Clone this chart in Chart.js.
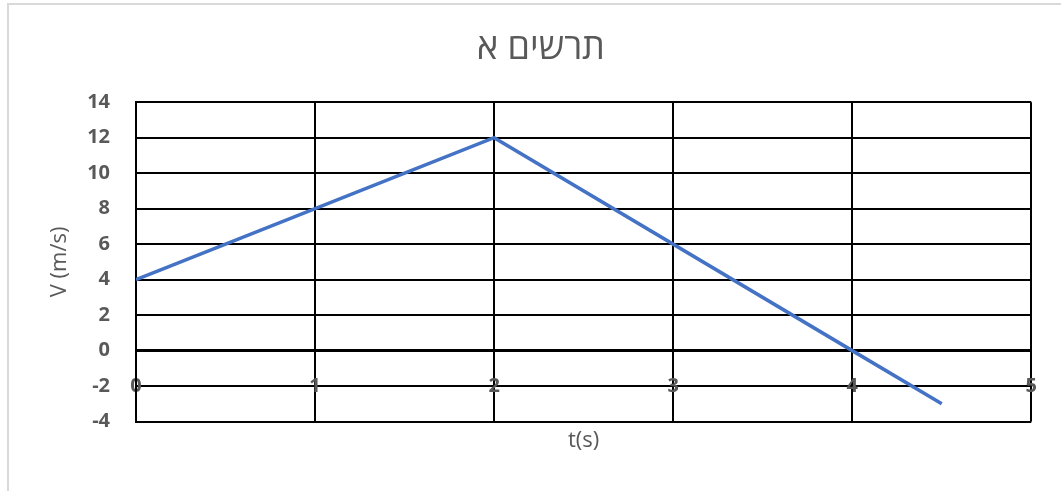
<!DOCTYPE html>
<html>
<head>
<meta charset="utf-8">
<script src="https://cdn.jsdelivr.net/npm/chart.js@4/dist/chart.umd.min.js"></script>
<style>
  html, body { margin: 0; padding: 0; background: #fff; overflow: hidden; }
  #wrap { position: relative; width: 1061px; height: 491px; }
  #frame {
    position: absolute; left: 7px; top: 3px; width: 1100px; height: 600px;
    border: 2px solid #d9d9d9; box-sizing: border-box;
  }
  canvas { position: absolute; left: 0; top: 0; }
</style>
</head>
<body>
<div id="wrap">
  <div id="frame"></div>
  <canvas id="chart" width="1061" height="491"></canvas>
</div>
<script>
"use strict";

// values
const chartTitle = "תרשים א";
const timeValues = [0, 2, 4, 4.5];
const velocityValues = [4, 12, 0, -3];
const xTickRange = {min: 0, max: 5, step: 1};
const yTickRange = {min: -4, max: 14, step: 2};
const xAxisTitle = "t(s)";
const yAxisTitle = "V (m/s)";

const textGrey = "#595959";
const fontFamily = "'Open Sans', 'Liberation Sans', 'DejaVu Sans', sans-serif";

const points = timeValues.map((t, i) => ({x: t, y: velocityValues[i]}));

new Chart(document.getElementById("chart"), {
  type: "scatter",
  data: {
    datasets: [{
      label: "V",
      data: points,
      showLine: true,
      borderColor: "#4472C4",
      borderWidth: 3.5,
      pointRadius: 0,
      tension: 0,
    }]
  },
  options: {
    responsive: false,
    animation: false,
    layout: {padding: {left: 45, right: 24, top: 0, bottom: 0}},
    scales: {
      x: {
        type: "linear",
        position: {y: 0},
        min: xTickRange.min,
        max: xTickRange.max,
        grid: {color: "#000", lineWidth: 2, drawTicks: false},
        border: {display: true, color: "#000", width: 2},
        ticks: {
          stepSize: xTickRange.step,
          padding: 24,
          color: textGrey,
          font: {family: fontFamily, size: 20, weight: "bold"},
        },
      },
      y: {
        min: yTickRange.min,
        max: yTickRange.max,
        grid: {
          color: "#000",
          lineWidth: (ctx) => (ctx.tick && ctx.tick.value === 0 ? 3 : 2),
          drawTicks: false,
        },
        border: {display: true, color: "#000", width: 2},
        ticks: {
          stepSize: yTickRange.step,
          padding: 26,
          color: textGrey,
          font: {family: fontFamily, size: 20, weight: "bold"},
        },
        title: {
          display: true,
          text: yAxisTitle,
          color: textGrey,
          padding: {top: 2, bottom: 0},
          font: {family: fontFamily, size: 22},
        },
        afterFit: (scale) => { scale.width = 91; },
      }
    },
    plugins: {
      legend: {display: false},
      tooltip: {enabled: false},
      title: {
        display: true,
        text: chartTitle,
        color: textGrey,
        padding: {top: 27, bottom: 32},
        font: {family: fontFamily, size: 36, weight: "normal"},
      },
      subtitle: {
        display: true,
        text: xAxisTitle,
        position: "bottom",
        fullSize: false,
        color: textGrey,
        padding: {top: 6, bottom: 37},
        font: {family: fontFamily, size: 22, weight: "normal"},
      }
    }
  }
});
</script>
</body>
</html>
